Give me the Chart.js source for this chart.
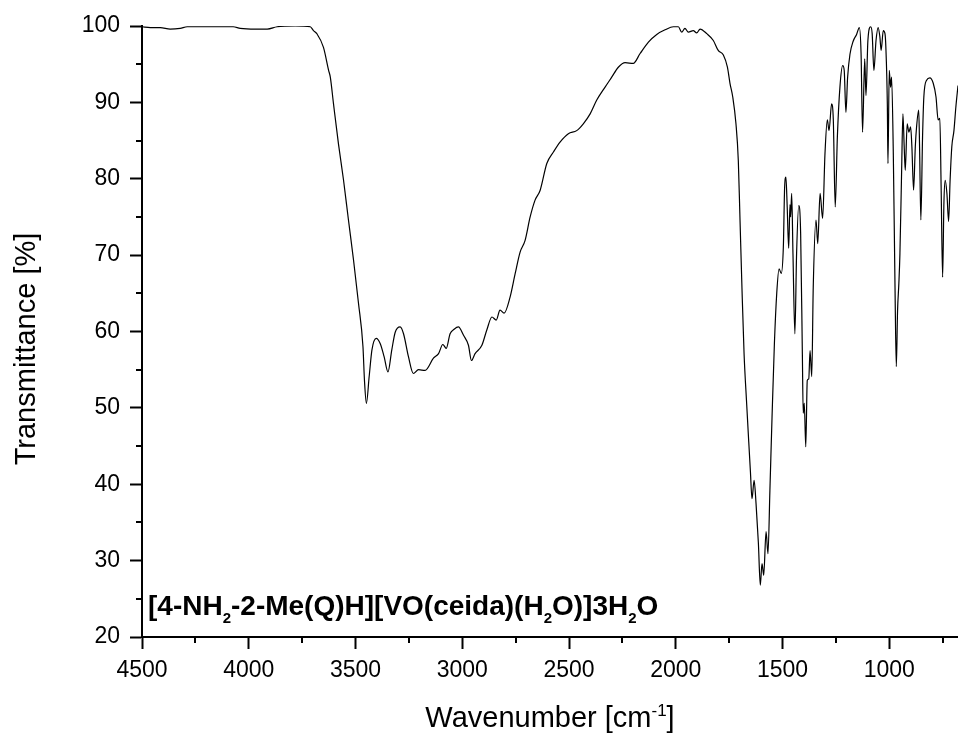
<!DOCTYPE html>
<html>
<head>
<meta charset="utf-8">
<script src="https://cdn.jsdelivr.net/npm/chart.js@4.4.1/dist/chart.umd.min.js"></script>
<style>
  html, body { margin: 0; padding: 0; background: #fff; }
  #wrap { width: 958px; height: 737px; }
</style>
</head>
<body>
<div id="wrap"><canvas id="ir-spectrum" width="958" height="737"></canvas></div>
<script>
// wavenumber [cm-1]
const wavenumbers = [
  4500, 4461, 4414, 4368, 4321, 4288, 4180, 4073, 4040, 3970, 3913, 3867, 3782, 3712,
  3697, 3681, 3650, 3626, 3618, 3603, 3580, 3556, 3533, 3509, 3486, 3465, 3458, 3449,
  3436, 3423, 3403, 3384, 3366, 3348, 3330, 3314, 3291, 3275, 3252, 3229, 3205, 3174,
  3135, 3111, 3091, 3075, 3057, 3038, 3018, 2994, 2971, 2957, 2940, 2908, 2885, 2861,
  2841, 2823, 2804, 2776, 2752, 2729, 2706, 2682, 2659, 2635, 2604, 2573, 2542, 2503,
  2464, 2433, 2401, 2370, 2331, 2300, 2269, 2237, 2199, 2167, 2128, 2089, 2050, 2011,
  1988, 1972, 1957, 1941, 1918, 1902, 1886, 1855, 1824, 1801, 1777, 1758, 1746, 1733,
  1718, 1707, 1699, 1690, 1680, 1668, 1655, 1650, 1643, 1633, 1624, 1613, 1604, 1596,
  1588, 1577, 1568, 1559, 1549, 1538, 1527, 1516, 1506, 1496, 1490, 1484, 1478, 1471,
  1465, 1462, 1457, 1451, 1442, 1434, 1424, 1415, 1407, 1403, 1398, 1391, 1384, 1377,
  1371, 1363, 1356, 1343, 1335, 1324, 1312, 1301, 1290, 1282, 1270, 1262, 1253, 1243,
  1231, 1218, 1211, 1203, 1195, 1184, 1169, 1153, 1140, 1132, 1125, 1115, 1109, 1100,
  1087, 1080, 1072, 1062, 1052, 1044, 1038, 1028, 1020, 1016, 1009, 1006, 1000, 994,
  989, 981, 973, 967, 961, 955, 950, 942, 936, 930, 925, 916, 908, 900,
  894, 886, 878, 872, 862, 858, 852, 844, 838, 825, 810, 794, 781, 771,
  763, 757, 750, 744, 738, 730, 722, 715, 707, 697, 688, 678
];

// transmittance [%]
const transmittance = [
  99.9, 99.8, 99.8, 99.6, 99.7, 99.9, 99.9, 99.9, 99.7, 99.6, 99.6, 99.9, 100.0, 99.9,
  99.4, 99.0, 97.2, 94.2, 93.3, 89.8, 84.6, 79.8, 74.6, 69.3, 63.7, 58.0, 53.6, 50.6,
  54.1, 57.6, 59.1, 58.4, 56.7, 54.7, 57.6, 59.9, 60.6, 59.7, 56.7, 54.5, 55.0, 54.9,
  56.5, 57.1, 58.3, 57.8, 59.7, 60.3, 60.6, 59.5, 58.2, 56.2, 57.1, 58.2, 60.2, 61.9,
  61.5, 62.8, 62.4, 64.5, 67.6, 70.4, 71.9, 75.0, 77.2, 78.5, 82.0, 83.5, 84.8, 85.9,
  86.3, 87.2, 88.5, 90.3, 92.0, 93.3, 94.6, 95.2, 95.1, 96.4, 97.9, 98.9, 99.5, 99.9,
  99.9, 99.2, 99.7, 99.2, 99.4, 99.1, 99.6, 99.0, 98.1, 96.8, 96.2, 94.6, 92.5, 90.7,
  87.2, 82.4, 74.6, 65.8, 57.1, 50.6, 44.0, 41.5, 38.1, 40.5, 37.5, 32.3, 26.8, 29.6,
  28.1, 33.8, 30.9, 39.2, 48.8, 58.4, 65.0, 68.2, 67.6, 71.1, 78.9, 80.2, 76.3, 70.9,
  76.6, 75.0, 78.1, 70.2, 59.7, 70.2, 76.5, 72.8, 57.1, 49.3, 50.6, 44.9, 53.6, 53.8,
  57.5, 54.1, 65.8, 74.6, 71.5, 78.1, 74.8, 83.3, 87.7, 86.3, 89.8, 87.7, 76.3, 85.5,
  92.0, 94.8, 94.2, 88.7, 93.3, 96.3, 98.0, 98.9, 99.8, 96.4, 86.1, 95.7, 90.9, 98.1,
  99.9, 99.0, 94.2, 98.1, 99.8, 98.6, 96.8, 99.4, 99.0, 97.3, 89.8, 82.0, 94.2, 92.0,
  93.3, 83.3, 65.8, 55.4, 62.8, 66.3, 70.2, 81.1, 88.5, 84.2, 81.1, 87.2, 86.1, 86.8,
  84.2, 78.5, 84.2, 86.8, 89.0, 84.2, 74.6, 85.5, 90.7, 92.9, 93.2, 92.5, 90.7, 87.7,
  87.9, 78.9, 67.1, 76.8, 79.8, 78.1, 74.4, 79.8, 84.2, 86.3, 89.4, 92.2
];

const xMajorTicks = [4500, 4000, 3500, 3000, 2500, 2000, 1500, 1000];
const xMinorTicks = [4250, 3750, 3250, 2750, 2250, 1750, 1250, 750];
const yMajorTicks = [20, 30, 40, 50, 60, 70, 80, 90, 100];
const yMinorTicks = [25, 35, 45, 55, 65, 75, 85, 95];

const FONT = "'Liberation Sans', Arial, Helvetica, sans-serif";

// minor ticks, axis titles (with super/subscripts) and the sample label
const decorations = {
  id: "decorations",
  afterDraw(chart) {
    const ctx = chart.ctx;
    const area = chart.chartArea;
    const xs = chart.scales.x;
    const ys = chart.scales.y;

    ctx.save();
    ctx.strokeStyle = "#000";
    ctx.lineWidth = 2;
    xMinorTicks.forEach((v) => {
      const px = Math.round(xs.getPixelForValue(v));
      ctx.beginPath();
      ctx.moveTo(px, area.bottom);
      ctx.lineTo(px, area.bottom + 6);
      ctx.stroke();
    });
    yMinorTicks.forEach((v) => {
      const py = Math.round(ys.getPixelForValue(v));
      ctx.beginPath();
      ctx.moveTo(area.left, py);
      ctx.lineTo(area.left - 6, py);
      ctx.stroke();
    });

    ctx.fillStyle = "#000";
    ctx.textBaseline = "alphabetic";

    // y title
    ctx.save();
    ctx.font = "29px " + FONT;
    ctx.translate(35, 349);
    ctx.rotate(-Math.PI / 2);
    ctx.textAlign = "center";
    ctx.fillText("Transmittance [%]", 0, 0);
    ctx.restore();

    // x title: Wavenumber [cm^-1]
    const big = "29px " + FONT;
    const sup = "17px " + FONT;
    const parts = [
      { t: "Wavenumber [cm", f: big, dy: 0 },
      { t: "-1", f: sup, dy: -11 },
      { t: "]", f: big, dy: 0 },
    ];
    let total = 0;
    parts.forEach((p) => {
      ctx.font = p.f;
      total += ctx.measureText(p.t).width;
    });
    let cx = (area.left + area.right) / 2 - total / 2;
    ctx.textAlign = "left";
    parts.forEach((p) => {
      ctx.font = p.f;
      ctx.fillText(p.t, cx, 727 + p.dy);
      cx += ctx.measureText(p.t).width;
    });

    // sample label
    const lab = "bold 28px " + FONT;
    const sub = "bold 15px " + FONT;
    const label = [
      ["[4-NH", 0], ["2", 1], ["-2-Me(Q)H][VO(ceida)(H", 0], ["2", 1],
      ["O)]3H", 0], ["2", 1], ["O", 0],
    ];
    let lx = area.left + 6;
    const base = area.bottom - 22;
    label.forEach(([t, s]) => {
      ctx.font = s ? sub : lab;
      ctx.fillText(t, lx, s ? base + 8 : base);
      lx += ctx.measureText(t).width;
    });
    ctx.restore();
  },
};

const spectrumConfig = {
  type: "line",
  data: {
    datasets: [
      {
        data: wavenumbers.map((w, i) => ({ x: w, y: transmittance[i] })),
        borderColor: "#000",
        borderWidth: 1.2,
        pointRadius: 0,
        fill: false,
        cubicInterpolationMode: "monotone",
      },
    ],
  },
  options: {
    responsive: false,
    animation: false,
    events: [],
    layout: { padding: { top: 26, right: 0, left: 0, bottom: 0 } },
    plugins: {
      legend: { display: false },
      tooltip: { enabled: false },
    },
    scales: {
      x: {
        type: "linear",
        reverse: true,
        min: 678,
        max: 4500,
        afterBuildTicks: (scale) => {
          scale.ticks = xMajorTicks.map((v) => ({ value: v }));
        },
        afterFit: (scale) => {
          scale.height = 100;
        },
        ticks: {
          color: "#000",
          font: { family: FONT, size: 23 },
          padding: 8,
          maxRotation: 0,
          autoSkip: false,
          callback: (v) => String(v),
        },
        grid: {
          display: true,
          drawOnChartArea: false,
          tickLength: 12,
          tickWidth: 2,
          tickColor: "#000",
        },
        border: { display: true, color: "#000", width: 2 },
      },
      y: {
        min: 20,
        max: 100,
        afterBuildTicks: (scale) => {
          scale.ticks = yMajorTicks.map((v) => ({ value: v }));
        },
        afterFit: (scale) => {
          scale.width = 142;
        },
        ticks: {
          color: "#000",
          font: { family: FONT, size: 23 },
          padding: 10,
          autoSkip: false,
        },
        grid: {
          display: true,
          drawOnChartArea: false,
          tickLength: 12,
          tickWidth: 2,
          tickColor: "#000",
        },
        border: { display: true, color: "#000", width: 2 },
      },
    },
  },
  plugins: [decorations],
};

const irChart = new Chart(
  document.getElementById("ir-spectrum").getContext("2d"),
  spectrumConfig
);
</script>
</body>
</html>
